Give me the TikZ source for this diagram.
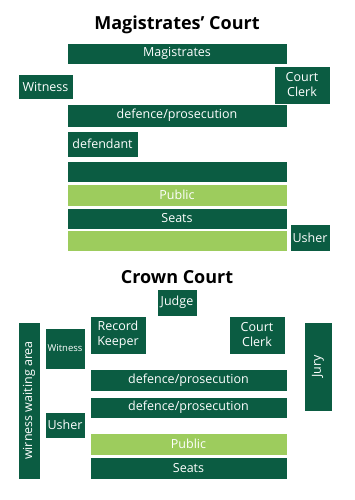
\documentclass[tikz,border=0pt]{standalone}
\usepackage{fontspec}
\setmainfont{Open Sans}
\definecolor{courtdark}{HTML}{0B5C42}
\definecolor{courtlight}{HTML}{9DCC5D}
\tikzset{
  room/.style={draw=white,line width=0.5pt,inner sep=0pt,align=center,
    text=white,font=\fontsize{12.5}{15}\selectfont},
  darkbox/.style={room,fill=courtdark},
  lightbox/.style={room,fill=courtlight},
  heading/.style={font=\fontsize{18}{20}\selectfont\bfseries}
}
\begin{document}
\begin{tikzpicture}[x=1pt,y=-1pt]
  % Keep the reference frame of 354 by 500 pixels.
  \useasboundingbox (0,0) rectangle (354,500);

  % Magistrates' Court
  \node[heading] (magtitle) at (177,25) {Magistrates’ Court};
  \node[darkbox,minimum width=220,minimum height=21] (magistrates) at (177,53.5) {Magistrates};
  \node[darkbox,minimum width=55,minimum height=25] (magwitness) at (45.5,86.5) {Witness};
  \node[darkbox,minimum width=56,minimum height=38] (magclerk) at (302,85) {Court\\Clerk};
  \node[darkbox,minimum width=220,minimum height=23] (magdefpro) at (177,115.5) {defence/prosecution};
  \node[darkbox,minimum width=71,minimum height=26] (defendant) at (102.5,144) {defendant};
  \node[darkbox,minimum width=220,minimum height=21] (magrowa) at (177,172) {};
  \node[lightbox,minimum width=220,minimum height=22] (magpublic) at (177,195) {Public};
  \node[darkbox,minimum width=220,minimum height=21] (magseats) at (177,218.5) {Seats};
  \node[lightbox,minimum width=220,minimum height=21] (magrowb) at (177,240.5) {};
  \node[darkbox,minimum width=40,minimum height=27] (magusher) at (310,237.5) {Usher};

  % Crown Court
  \node[heading] (crowntitle) at (177,277) {Crown Court};
  \node[darkbox,minimum width=40,minimum height=27] (judge) at (177,302.5) {Judge};
  \node[darkbox,minimum width=56,minimum height=38] (recorder) at (118,335) {Record\\Keeper};
  \node[darkbox,minimum width=56,minimum height=38] (crownclerk) at (257,335) {Court\\Clerk};
  \node[darkbox,minimum width=22,minimum height=157] (waiting) at (29,400.5)
    {\rotatebox{90}{wirness waiting area}};
  \node[darkbox,minimum width=40,minimum height=41,font=\fontsize{9.5}{11}\selectfont] (crownwitness) at (65,348.5) {Witness};
  \node[darkbox,minimum width=28,minimum height=89] (jury) at (318,366.5)
    {\rotatebox{90}{Jury}};
  \node[darkbox,minimum width=197,minimum height=22] (defproa) at (188.5,380) {defence/prosecution};
  \node[darkbox,minimum width=197,minimum height=21] (defprob) at (188.5,407.5) {defence/prosecution};
  \node[darkbox,minimum width=40,minimum height=26] (crownusher) at (65,425) {Usher};
  \node[lightbox,minimum width=197,minimum height=22] (crownpublic) at (188.5,444) {Public};
  \node[darkbox,minimum width=197,minimum height=22] (crownseats) at (188.5,468) {Seats};
\end{tikzpicture}
\end{document}
